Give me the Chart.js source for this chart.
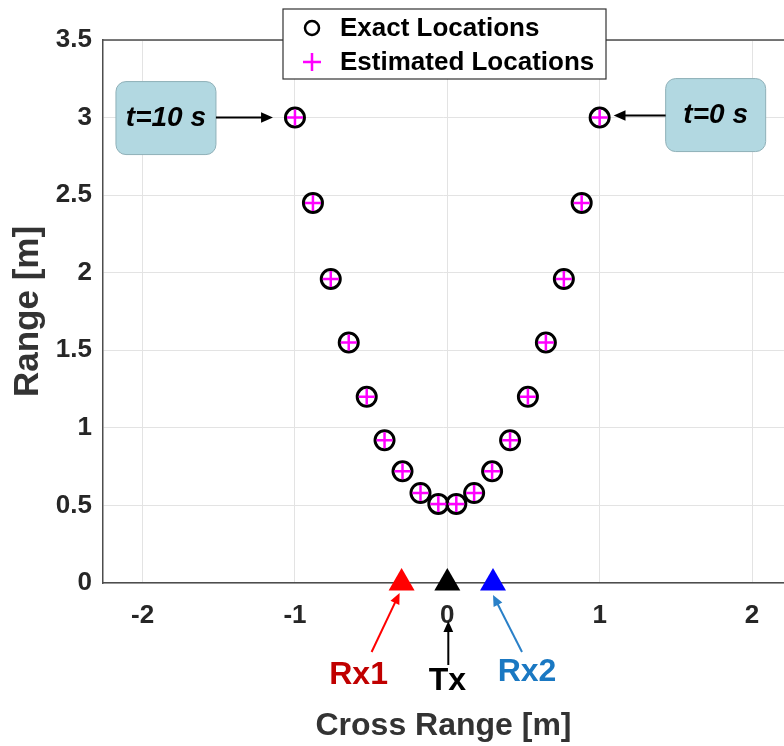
<!DOCTYPE html>
<html>
<head>
<meta charset="utf-8">
<title>Range vs Cross Range</title>
<script src="https://cdn.jsdelivr.net/npm/chart.js@4.4.1/dist/chart.umd.min.js"></script>
<style>
  body { margin: 0; background: #fff; overflow: hidden; }
  canvas { display: block; }
</style>
</head>
<body>
<canvas id="cvsRango" width="784" height="746"></canvas>
<script>
// ! datos (t=0 s a la derecha, t=10 s a la izquierda)
const exactX = [1.0, 0.882, 0.765, 0.647, 0.529, 0.412, 0.294, 0.176, 0.059, -0.059, -0.176, -0.294, -0.412, -0.529, -0.647, -0.765, -0.882, -1.0];
const exactY = [3.0, 2.45, 1.96, 1.55, 1.20, 0.92, 0.72, 0.58, 0.51, 0.51, 0.58, 0.72, 0.92, 1.20, 1.55, 1.96, 2.45, 3.0];
const estX = [1.0, 0.882, 0.765, 0.647, 0.529, 0.412, 0.294, 0.176, 0.059, -0.059, -0.176, -0.294, -0.412, -0.529, -0.647, -0.765, -0.882, -1.0];
const estY = [3.0, 2.45, 1.96, 1.55, 1.20, 0.92, 0.72, 0.58, 0.51, 0.51, 0.58, 0.72, 0.92, 1.20, 1.55, 1.96, 2.45, 3.0];
const sensorNames = ['Rx1', 'Tx', 'Rx2'];
const sensorX = [-0.3, 0, 0.3];
const sensorY = [0, 0, 0];
const xTicks = [-2, -1, 0, 1, 2];
const yTicks = [0, 0.5, 1, 1.5, 2, 2.5, 3, 3.5];
const timeLabels = ['t=0 s', 't=10 s'];

const FONT = "'Liberation Sans', Arial, sans-serif";
const sensorFill = ['#ff0000', '#000000', '#0000ff'];
const sensorText = ['#c00000', '#000000', '#1a78c2'];
const sensorArrow = ['#ff0000', '#000000', '#2a80c8'];
// offsets (px) de etiqueta y flecha respecto al sensor
const sensorLabelOff = [[-43, 92], [0, 98], [34, 89]];
const sensorTailOff = [[-30, 69], [1, 82], [29, 69]];
const sensorTipOff = [[-2, 10], [1, 38], [0, 12]];

function arrow(ctx, x1, y1, x2, y2, color, w, head) {
  const ang = Math.atan2(y2 - y1, x2 - x1);
  ctx.save();
  ctx.strokeStyle = color;
  ctx.fillStyle = color;
  ctx.lineWidth = w;
  ctx.beginPath();
  ctx.moveTo(x1, y1);
  ctx.lineTo(x2 - Math.cos(ang) * head * 0.8, y2 - Math.sin(ang) * head * 0.8);
  ctx.stroke();
  ctx.beginPath();
  ctx.moveTo(x2, y2);
  ctx.lineTo(x2 - head * Math.cos(ang - 0.42), y2 - head * Math.sin(ang - 0.42));
  ctx.lineTo(x2 - head * Math.cos(ang + 0.42), y2 - head * Math.sin(ang + 0.42));
  ctx.closePath();
  ctx.fill();
  ctx.restore();
}

function timeBox(ctx, cx, cy, text) {
  ctx.save();
  ctx.beginPath();
  ctx.roundRect(cx - 50, cy - 36, 100, 73, 10);
  ctx.fillStyle = '#b2d8e1';
  ctx.fill();
  ctx.strokeStyle = '#8fb0b8';
  ctx.lineWidth = 1;
  ctx.stroke();
  ctx.fillStyle = '#000';
  ctx.font = `italic bold 28px ${FONT}`;
  ctx.textAlign = 'center';
  ctx.textBaseline = 'middle';
  ctx.fillText(text, cx, cy + 1);
  ctx.restore();
}

const extras = {
  id: 'extras',
  afterDraw(chart) {
    const ctx = chart.ctx;
    const area = chart.chartArea;
    const sx = chart.scales.x;
    const sy = chart.scales.y;

    // borde superior de la caja
    ctx.save();
    ctx.strokeStyle = '#4d4d4d';
    ctx.lineWidth = 1.5;
    ctx.beginPath();
    ctx.moveTo(area.left, area.top);
    ctx.lineTo(area.right, area.top);
    ctx.stroke();
    ctx.restore();

    // cajas de tiempo
    const last = exactX.length - 1;
    const p0x = sx.getPixelForValue(exactX[0]), p0y = sy.getPixelForValue(exactY[0]);
    const p1x = sx.getPixelForValue(exactX[last]), p1y = sy.getPixelForValue(exactY[last]);
    timeBox(ctx, p0x + 116, p0y - 3, timeLabels[0]);
    arrow(ctx, p0x + 66, p0y - 2, p0x + 14, p0y - 2, '#000', 2, 13);
    timeBox(ctx, p1x - 129, p1y, timeLabels[1]);
    arrow(ctx, p1x - 79, p1y, p1x - 22, p1y, '#000', 2, 13);

    // sensores
    sensorNames.forEach((name, i) => {
      const px = sx.getPixelForValue(sensorX[i]);
      const py = sy.getPixelForValue(sensorY[i]);
      arrow(ctx, px + sensorTailOff[i][0], py + sensorTailOff[i][1],
        px + sensorTipOff[i][0], py + sensorTipOff[i][1], sensorArrow[i], 2, 12);
      ctx.save();
      ctx.fillStyle = sensorText[i];
      ctx.font = `bold 32px ${FONT}`;
      ctx.textAlign = 'center';
      ctx.textBaseline = 'middle';
      ctx.fillText(name, px + sensorLabelOff[i][0], py + sensorLabelOff[i][1]);
      ctx.restore();
    });

    // leyenda
    ctx.save();
    ctx.fillStyle = '#fff';
    ctx.fillRect(283, 9, 323, 70);
    ctx.strokeStyle = '#333';
    ctx.lineWidth = 1.2;
    ctx.strokeRect(283, 9, 323, 70);
    ctx.lineWidth = 2.5;
    ctx.strokeStyle = '#000';
    ctx.beginPath();
    ctx.arc(312, 28, 7, 0, Math.PI * 2);
    ctx.stroke();
    ctx.strokeStyle = '#ff00ff';
    ctx.beginPath();
    ctx.moveTo(303, 62); ctx.lineTo(321, 62);
    ctx.moveTo(312, 53); ctx.lineTo(312, 71);
    ctx.stroke();
    ctx.fillStyle = '#000';
    ctx.font = `bold 26px ${FONT}`;
    ctx.textBaseline = 'middle';
    ctx.fillText(chart.data.datasets[1].label, 340, 29);
    ctx.fillText(chart.data.datasets[0].label, 340, 63);
    ctx.restore();
  }
};

const cvsRango = document.getElementById('cvsRango');
new Chart(cvsRango, {
  type: 'scatter',
  data: {
    datasets: [
      {
        label: 'Estimated Locations',
        data: estX.map((x, i) => ({ x: x, y: estY[i] })),
        pointStyle: 'cross',
        pointRadius: 8,
        pointBorderWidth: 2.5,
        pointBorderColor: '#ff00ff',
        order: 0,
        clip: false
      },
      {
        label: 'Exact Locations',
        data: exactX.map((x, i) => ({ x: x, y: exactY[i] })),
        pointStyle: 'circle',
        pointRadius: 9.5,
        pointBorderWidth: 3,
        pointBorderColor: '#000',
        pointBackgroundColor: 'rgba(0,0,0,0)',
        order: 1,
        clip: false
      },
      ...sensorNames.map((name, i) => ({
        label: name,
        data: [{ x: sensorX[i], y: sensorY[i] }],
        pointStyle: 'triangle',
        pointRadius: 15,
        pointBorderWidth: 0,
        pointBackgroundColor: sensorFill[i],
        pointBorderColor: sensorFill[i],
        order: 0,
        clip: false
      }))
    ]
  },
  options: {
    responsive: false,
    animation: false,
    devicePixelRatio: 1,
    events: [],
    layout: { autoPadding: false, padding: { top: 40, right: 0, left: 0, bottom: 0 } },
    plugins: {
      legend: { display: false },
      tooltip: { enabled: false }
    },
    scales: {
      x: {
        type: 'linear',
        min: -2.26,
        max: 2.21,
        afterBuildTicks: s => { s.ticks = xTicks.map(v => ({ value: v })); },
        afterFit: s => { s.height = 163; s.paddingLeft = 0; s.paddingRight = 0; },
        grid: { color: '#e3e3e3', drawTicks: false },
        border: { color: '#4d4d4d', width: 1.5 },
        ticks: {
          padding: 17,
          color: '#262626',
          font: { family: FONT, size: 26, weight: 'bold' },
          callback: v => String(v)
        },
        title: {
          display: true,
          text: 'Cross Range [m]',
          color: '#333',
          font: { family: FONT, size: 32, weight: 'bold' },
          padding: { top: 0, bottom: 1 }
        }
      },
      y: {
        type: 'linear',
        min: 0,
        max: 3.5,
        afterBuildTicks: s => { s.ticks = yTicks.map(v => ({ value: v })); },
        afterFit: s => { s.width = 103; s.paddingTop = 0; s.paddingBottom = 0; },
        grid: { color: '#e3e3e3', drawTicks: false },
        border: { color: '#4d4d4d', width: 1.5 },
        ticks: {
          padding: 11,
          color: '#262626',
          font: { family: FONT, size: 26, weight: 'bold' },
          callback: v => String(v)
        },
        title: {
          display: true,
          text: 'Range [m]',
          color: '#333',
          font: { family: FONT, size: 35, weight: 'bold' },
          padding: { top: 7, bottom: 0 }
        }
      }
    }
  },
  plugins: [extras]
});
</script>
</body>
</html>
